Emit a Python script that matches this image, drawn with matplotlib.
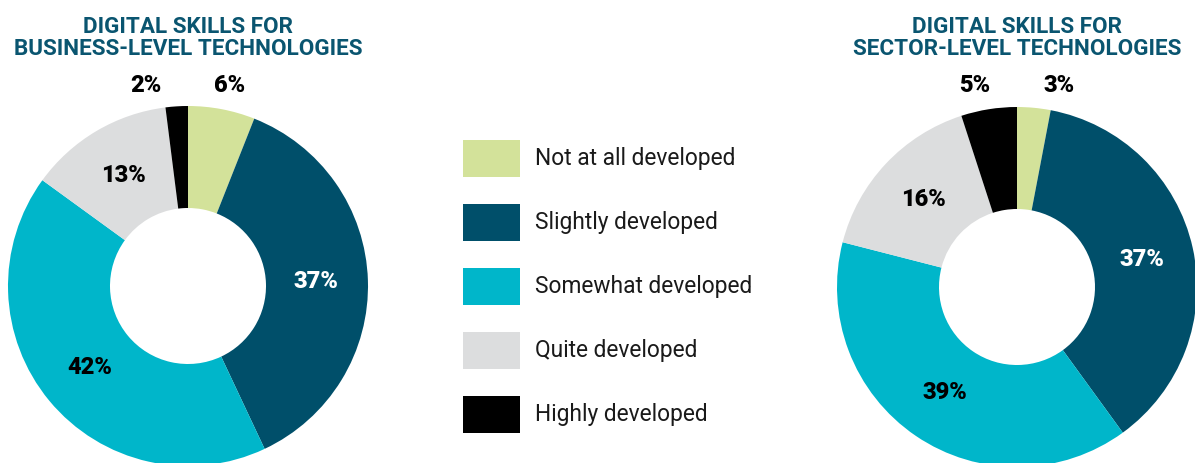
import numpy as np
import matplotlib.pyplot as plt
from matplotlib.patches import Rectangle
from matplotlib.colors import to_rgb

categories = ["Not at all developed", "Slightly developed", "Somewhat developed",
              "Quite developed", "Highly developed"]
business = [6, 37, 42, 13, 2]
sector = [3, 37, 39, 16, 5]
colors = ["#d3e29a", "#004f6a", "#00b6ca", "#dcddde", "#000000"]
titles = ["DIGITAL SKILLS FOR\nBUSINESS-LEVEL TECHNOLOGIES",
          "DIGITAL SKILLS FOR\nSECTOR-LEVEL TECHNOLOGIES"]

W, H = 1195, 463
fig = plt.figure(figsize=(W / 100, H / 100), dpi=100)
ax = fig.add_axes([0, 0, 1, 1])

R = 180
hole = 78


def donut(values, cx, cy, title):
    cy = H - cy
    wedges, _ = ax.pie(values, colors=colors, startangle=90, counterclock=False,
                       radius=R, center=(cx, cy),
                       wedgeprops=dict(width=R - hole, linewidth=0))
    for w, v, c in zip(wedges, values, colors):
        mid = np.deg2rad((w.theta1 + w.theta2) / 2)
        if v >= 10:
            x = cx + 0.71 * R * np.cos(mid)
            y = cy + 0.71 * R * np.sin(mid)
            r, g, b = to_rgb(c)
            tc = "white" if 0.3 * r + 0.59 * g + 0.11 * b < 0.35 else "black"
        else:
            x = cx + 42 * np.sign(np.cos(mid))
            y = cy + R + 21
            tc = "black"
        ax.text(x, y, f"{v}%", ha="center", va="center", fontsize=17,
                fontweight="black", family="Roboto", color=tc)
    ax.text(cx, H - 38, title, ha="center", va="center", fontsize=16.2,
            fontweight="bold", family="Roboto", color="#0a5570",
            linespacing=1.05)


donut(business, 188, 286, titles[0])
donut(sector, 1017, 287, titles[1])

# legend
for i, (lab, c) in enumerate(zip(categories, colors)):
    yc = 158 + i * 64
    ax.add_patch(Rectangle((463, H - yc - 18.5), 57, 37, color=c, lw=0))
    ax.text(535, H - yc, lab, ha="left", va="center", fontsize=16.4,
            family="Roboto", color="#1a1a1a")

ax.set_xlim(0, W)
ax.set_ylim(0, H)
ax.set_aspect("equal")
ax.axis("off")
fig.savefig("out.png", dpi=100)
